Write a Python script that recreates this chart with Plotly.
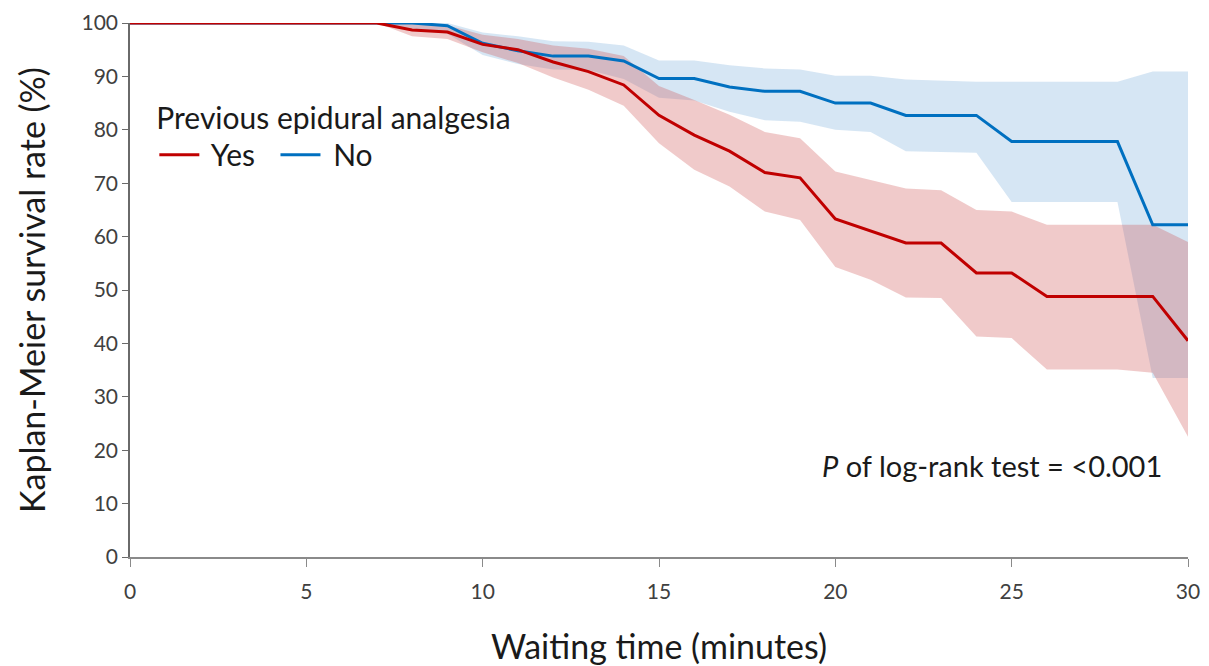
import plotly.graph_objects as go

minutes = [0, 1, 2, 3, 4, 5, 6, 7, 8, 9, 10, 11, 12, 13, 14, 15, 16, 17, 18, 19, 20,
           21, 22, 23, 24, 25, 26, 27, 28, 29, 30]

yes_surv = [100, 100, 100, 100, 100, 100, 100, 100, 98.7, 98.3, 96.0, 95.0, 92.7, 90.9, 88.4,
            82.7, 79.0, 76.0, 72.0, 71.0, 63.3, 61.0, 58.8, 58.8, 53.2, 53.2, 48.8, 48.8,
            48.8, 48.8, 40.5]
yes_upper = [100, 100, 100, 100, 100, 100, 100, 100, 99.8, 99.6, 97.8, 97.0, 95.8, 95.2, 93.8,
             88.2, 85.6, 82.8, 79.6, 78.4, 72.2, 70.6, 69.0, 68.7, 65.0, 64.7, 62.2, 62.2,
             62.2, 62.2, 59.0]
yes_lower = [100, 100, 100, 100, 100, 100, 100, 100, 97.5, 97.0, 94.5, 92.5, 89.8, 87.5, 84.5,
             77.5, 72.5, 69.4, 64.7, 63.1, 54.3, 51.9, 48.6, 48.5, 41.3, 41.0, 35.1, 35.1,
             35.1, 34.5, 22.5]

no_surv = [100, 100, 100, 100, 100, 100, 100, 100, 100, 99.5, 96.2, 94.8, 93.8, 93.8, 92.9,
           89.6, 89.6, 88.0, 87.2, 87.2, 85.0, 85.0, 82.7, 82.7, 82.7, 77.8, 77.8, 77.8,
           77.8, 62.2, 62.2]
no_upper = [100, 100, 100, 100, 100, 100, 100, 100, 100, 100, 98.2, 97.5, 96.6, 96.5, 95.8,
            93.0, 93.0, 92.1, 91.5, 91.3, 90.1, 90.1, 89.4, 89.2, 89.0, 89.0, 89.0, 89.0,
            89.0, 90.9, 90.9]
no_lower = [100, 100, 100, 100, 100, 100, 100, 100, 99.0, 98.0, 94.0, 92.3, 91.3, 91.2, 89.5,
            86.0, 85.5, 83.4, 81.8, 81.5, 80.0, 79.6, 76.0, 75.8, 75.7, 66.5, 66.5, 66.5,
            66.5, 33.5, 33.5]

x_ticks = [0, 5, 10, 15, 20, 25, 30]
y_ticks = [0, 10, 20, 30, 40, 50, 60, 70, 80, 90, 100]

RED = "#C00000"
BLUE = "#0070C0"
FONT = "Lato"

fig = go.Figure()

# confidence bands
fig.add_trace(go.Scatter(x=minutes, y=no_lower, mode="lines", line=dict(width=0),
                         showlegend=False, hoverinfo="skip"))
fig.add_trace(go.Scatter(x=minutes, y=no_upper, mode="lines", line=dict(width=0),
                         fill="tonexty", fillcolor="rgba(91,155,213,0.25)",
                         showlegend=False, hoverinfo="skip"))
fig.add_trace(go.Scatter(x=minutes, y=yes_lower, mode="lines", line=dict(width=0),
                         showlegend=False, hoverinfo="skip"))
fig.add_trace(go.Scatter(x=minutes, y=yes_upper, mode="lines", line=dict(width=0),
                         fill="tonexty", fillcolor="rgba(205,80,80,0.30)",
                         showlegend=False, hoverinfo="skip"))

# survival curves (legend order: Yes, No)
fig.add_trace(go.Scatter(x=minutes, y=no_surv, mode="lines", name="&nbsp;No",
                         line=dict(color=BLUE, width=3), legendrank=2))
fig.add_trace(go.Scatter(x=minutes, y=yes_surv, mode="lines", name="&nbsp;Yes&nbsp;&nbsp;",
                         line=dict(color=RED, width=3), legendrank=1))

fig.add_annotation(x=30, y=16.5, xref="x", yref="y", xanchor="right", yanchor="middle",
                   text="<i>P</i> of log-rank test = <0.001", showarrow=False,
                   font=dict(family=FONT, size=29, color="#1a1a1a"), xshift=-24, yshift=3)

fig.update_layout(
    width=1201, height=658,
    margin=dict(l=122, r=21, t=15, b=109, autoexpand=False),
    paper_bgcolor="white", plot_bgcolor="white",
    font=dict(family=FONT, color="#262626"),
    legend=dict(
        title=dict(text="Previous epidural analgesia", side="top",
                   font=dict(family=FONT, size=30, color="#1a1a1a")),
        orientation="h", x=0.023, y=0.875, xanchor="left", yanchor="top",
        font=dict(family=FONT, size=30, color="#1a1a1a"),
        bgcolor="rgba(0,0,0,0)", itemwidth=40, traceorder="normal",
    ),
    xaxis=dict(
        range=[0, 30], tickvals=x_ticks, ticktext=[str(v) for v in x_ticks],
        showgrid=False, zeroline=False, showline=True, linecolor="#8a8a8a", linewidth=2,
        ticks="outside", ticklen=8, tickcolor="#8a8a8a", tickwidth=1,
        ticklabelstandoff=7, automargin=False,
        tickfont=dict(family=FONT, size=21, color="#404040"),
        title=dict(text="Waiting time (minutes)", font=dict(family=FONT, size=34, color="#1a1a1a"),
                   standoff=35),
    ),
    yaxis=dict(
        range=[0, 100], tickvals=y_ticks, ticktext=[str(v) for v in y_ticks],
        showgrid=False, zeroline=False, showline=True, linecolor="#6a6a6a", linewidth=1.5,
        ticks="outside", ticklen=6, tickcolor="#6a6a6a", tickwidth=1, automargin=False,
        tickfont=dict(family=FONT, size=21, color="#404040"),
        title=dict(text="Kaplan-Meier survival rate (%)", font=dict(family=FONT, size=34, color="#1a1a1a"),
                   standoff=26),
    ),
)

fig.write_html("out.html")
